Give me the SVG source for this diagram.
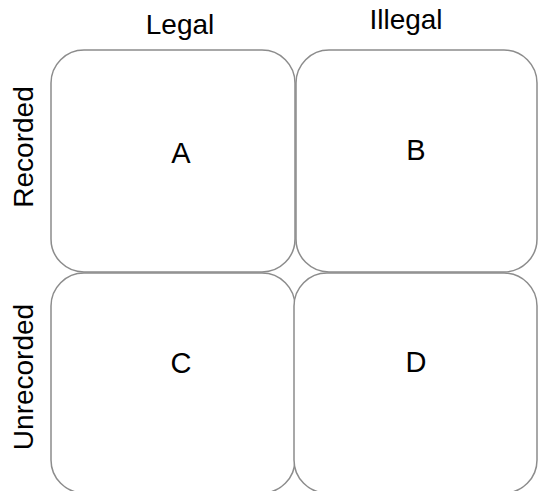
<svg xmlns="http://www.w3.org/2000/svg" width="538" height="491" viewBox="0 0 538 491">
<style>
.box{fill:#ffffff;stroke:#8c8c8c;stroke-width:1.5}
.lbl{font-family:"Liberation Sans",Arial,sans-serif;font-size:28px;fill:#000;text-anchor:middle}
.cell{font-family:"Liberation Sans",Arial,sans-serif;font-size:29px;fill:#000;text-anchor:middle}
</style>
<rect width="538" height="491" fill="#ffffff"/>
<g id="header-legal"><text class="lbl" x="180" y="34">Legal</text></g>
<g id="header-illegal"><text class="lbl" x="406" y="29">Illegal</text></g>
<g id="row-recorded"><text class="lbl" transform="translate(33,147) rotate(-90)">Recorded</text></g>
<g id="row-unrecorded"><text class="lbl" transform="translate(33,377) rotate(-90)">Unrecorded</text></g>
<g id="A"><rect class="box" x="51" y="50" width="244" height="222" rx="33" ry="33"/><text class="cell" x="181" y="163">A</text></g>
<g id="B"><rect class="box" x="296" y="50" width="241" height="222" rx="33" ry="33"/><text class="cell" x="416" y="160">B</text></g>
<g id="C"><rect class="box" x="51" y="273" width="244" height="220" rx="33" ry="33"/><text class="cell" x="181" y="373">C</text></g>
<g id="D"><rect class="box" x="294" y="273" width="243" height="220" rx="33" ry="33"/><text class="cell" x="416" y="372">D</text></g>
<g id="connectors"></g>
</svg>
